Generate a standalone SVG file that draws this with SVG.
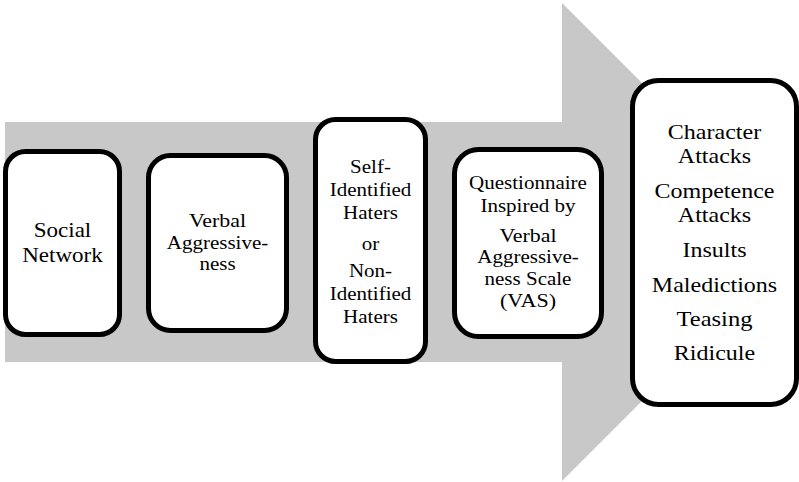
<svg xmlns="http://www.w3.org/2000/svg" width="799" height="482" viewBox="0 0 799 482">
<style>
.box{fill:#fff;stroke:#000;stroke-width:5}
text{font-family:'Liberation Serif','DejaVu Serif','Times New Roman',serif;fill:#000;text-anchor:middle}
.s1{font-size:20.9px}
.s2{font-size:19.1px}
.s5{font-size:21.8px}
</style>
<rect width="799" height="482" fill="#fff"/>
<g id="arrow">
<polygon points="5,122 562,122 562,3 801,242 562,481 562,362 5,362" fill="#c8c8c8"/>
</g>
<g id="connectors"></g>
<g id="n1">
<rect class="box" x="5.5" y="151.5" width="114" height="183" rx="20"/>
<text class="s1" x="62.5" y="237" textLength="57.5" lengthAdjust="spacingAndGlyphs">Social</text>
<text class="s1" x="62.5" y="262" textLength="80.5" lengthAdjust="spacingAndGlyphs">Network</text>
</g>
<g id="n2">
<rect class="box" x="148.5" y="155.5" width="138" height="175" rx="22"/>
<text class="s2" x="217.5" y="227" textLength="57.1" lengthAdjust="spacingAndGlyphs">Verbal</text>
<text class="s2" x="217.5" y="249" textLength="101.5" lengthAdjust="spacingAndGlyphs">Aggressive-</text>
<text class="s2" x="217.5" y="270" textLength="36.2" lengthAdjust="spacingAndGlyphs">ness</text>
</g>
<g id="n3">
<rect class="box" x="315.5" y="119.5" width="110" height="242" rx="20"/>
<text class="s2" x="370.5" y="173" textLength="40.8" lengthAdjust="spacingAndGlyphs">Self-</text>
<text class="s2" x="370.5" y="196" textLength="81.6" lengthAdjust="spacingAndGlyphs">Identified</text>
<text class="s2" x="370.5" y="219" textLength="54.8" lengthAdjust="spacingAndGlyphs">Haters</text>
<text class="s2" x="370.5" y="250" textLength="17.5" lengthAdjust="spacingAndGlyphs">or</text>
<text class="s2" x="370.5" y="277" textLength="43.2" lengthAdjust="spacingAndGlyphs">Non-</text>
<text class="s2" x="370.5" y="300" textLength="81.6" lengthAdjust="spacingAndGlyphs">Identified</text>
<text class="s2" x="370.5" y="323" textLength="54.8" lengthAdjust="spacingAndGlyphs">Haters</text>
</g>
<g id="n4">
<rect class="box" x="454.5" y="149.5" width="147" height="187" rx="24"/>
<text class="s2" x="528" y="189" textLength="117.8" lengthAdjust="spacingAndGlyphs">Questionnaire</text>
<text class="s2" x="528" y="212" textLength="95.1" lengthAdjust="spacingAndGlyphs">Inspired by</text>
<text class="s2" x="528" y="242" textLength="57.1" lengthAdjust="spacingAndGlyphs">Verbal</text>
<text class="s2" x="528" y="263" textLength="101.5" lengthAdjust="spacingAndGlyphs">Aggressive-</text>
<text class="s2" x="528" y="285" textLength="86.9" lengthAdjust="spacingAndGlyphs">ness Scale</text>
<text class="s2" x="528" y="307" textLength="56" lengthAdjust="spacingAndGlyphs">(VAS)</text>
</g>
<g id="n5">
<rect class="box" x="632.5" y="80.5" width="164" height="324" rx="26"/>
<text class="s5" x="714.5" y="139" textLength="93.3" lengthAdjust="spacingAndGlyphs">Character</text>
<text class="s5" x="714.5" y="163" textLength="73.3" lengthAdjust="spacingAndGlyphs">Attacks</text>
<text class="s5" x="714.5" y="198" textLength="120" lengthAdjust="spacingAndGlyphs">Competence</text>
<text class="s5" x="714.5" y="222" textLength="73.3" lengthAdjust="spacingAndGlyphs">Attacks</text>
<text class="s5" x="714.5" y="257" textLength="64" lengthAdjust="spacingAndGlyphs">Insults</text>
<text class="s5" x="714.5" y="292" textLength="125.3" lengthAdjust="spacingAndGlyphs">Maledictions</text>
<text class="s5" x="714.5" y="326" textLength="76" lengthAdjust="spacingAndGlyphs">Teasing</text>
<text class="s5" x="714.5" y="360" textLength="81.3" lengthAdjust="spacingAndGlyphs">Ridicule</text>
</g>
</svg>
